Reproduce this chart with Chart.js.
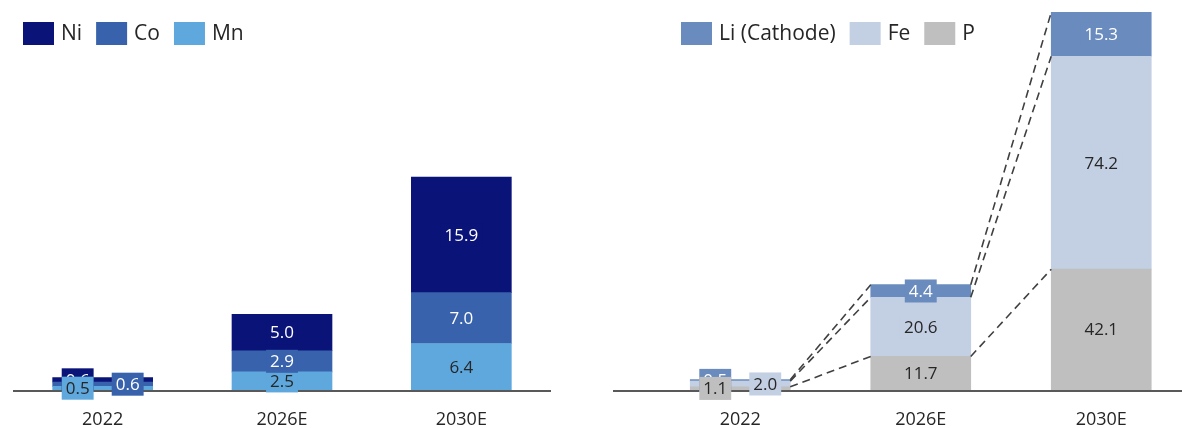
<!DOCTYPE html>
<html>
<head>
<meta charset="utf-8">
<script src="https://cdn.jsdelivr.net/npm/chart.js@4.4.1/dist/chart.umd.min.js"></script>
<style>
  html, body { margin: 0; padding: 0; background: #fff; overflow: hidden; }
  #left { position: absolute; left: 0; top: 0; }
  #rightWrap { position: absolute; left: 600px; top: 0; width: 582px; height: 428px; overflow: hidden; }
</style>
</head>
<body>
<canvas id="left" width="590" height="428"></canvas>
<div id="rightWrap"><canvas id="right" width="600" height="428"></canvas></div>
<script>
const years = ['2022', '2026E', '2030E'];

// NCM cathode metals
const ni = [0.6, 5.0, 15.9];
const co = [0.6, 2.9, 7.0];
const mn = [0.5, 2.5, 6.4];

// LFP cathode materials
const li = [0.5, 4.4, 15.3];
const fe = [2.0, 20.6, 74.2];
const p = [1.1, 11.7, 42.1];

const FONT = '"Open Sans", "Noto Sans", sans-serif';
Chart.defaults.font.family = FONT;
Chart.defaults.color = '#262626';

// one-row legend at a fixed spot, top series first
const rowLegend = {
    id: 'rowLegend',
    afterDraw(chart, args, opts) {
        const ctx = chart.ctx;
        const sets = chart.data.datasets.slice().reverse();
        let x = opts.left;
        ctx.save();
        ctx.font = '21px ' + FONT;
        ctx.textBaseline = 'middle';
        ctx.textAlign = 'left';
        sets.forEach(ds => {
            ctx.fillStyle = ds.backgroundColor;
            ctx.fillRect(x, opts.top, 31, 23);
            ctx.fillStyle = '#262626';
            ctx.fillText(ds.label, x + 38, opts.top + 12);
            x += 38 + ctx.measureText(ds.label).width + 14;
        });
        ctx.restore();
    }
};

// x axis line, optionally running further left than the plot
const baseline = {
    id: 'baseline',
    afterDatasetsDraw(chart, args, opts) {
        const { ctx, chartArea } = chart;
        ctx.save();
        ctx.strokeStyle = '#595959';
        ctx.lineWidth = 2;
        ctx.beginPath();
        ctx.moveTo(chartArea.left - (opts.extendLeft || 0), chartArea.bottom + 1);
        ctx.lineTo(chartArea.right, chartArea.bottom + 1);
        ctx.stroke();
        ctx.restore();
    }
};

// value boxes on each segment, plus dashed links between stacks
const barLabels = {
    id: 'barLabels',
    afterDatasetsDraw(chart, args, opts) {
        const ctx = chart.ctx;
        const sets = chart.data.datasets;

        if (opts.connectors) {
            ctx.save();
            ctx.strokeStyle = '#404040';
            ctx.lineWidth = 1.6;
            ctx.setLineDash([8, 5]);
            sets.forEach((ds, i) => {
                const bars = chart.getDatasetMeta(i).data;
                for (let j = 0; j < bars.length - 1; j++) {
                    const a = bars[j], b = bars[j + 1];
                    ctx.beginPath();
                    ctx.moveTo(a.x + a.width / 2, a.y);
                    ctx.lineTo(b.x - b.width / 2, b.y);
                    ctx.stroke();
                }
            });
            ctx.restore();
        }

        ctx.save();
        ctx.font = '17px ' + FONT;
        ctx.textAlign = 'center';
        ctx.textBaseline = 'middle';
        [2, 0, 1].forEach(i => {
            const ds = sets[i];
            chart.getDatasetMeta(i).data.forEach((bar, j) => {
                const text = ds.data[j].toFixed(1);
                let x = bar.x;
                const y = (bar.y + bar.base) / 2;
                // segments too thin to hold a label get it pushed to the side
                if (bar.base - bar.y < 10) x += (i === 1 ? 25 : -25);
                const w = ctx.measureText(text).width + 8, h = 23;
                ctx.fillStyle = ds.backgroundColor;
                ctx.fillRect(x - w / 2, y - h / 2, w, h);
                ctx.fillStyle = ds.labelColor;
                ctx.fillText(text, x, y + 1);
            });
        });
        ctx.restore();
    }
};

function makeOptions(yMax, pad, legendAt, extendLeft, connectors) {
    return {
        responsive: false,
        animation: false,
        layout: { padding: pad },
        scales: {
            x: {
                stacked: true,
                grid: { display: false, drawTicks: false },
                border: { display: false },
                ticks: { color: '#262626', font: { size: 18 }, padding: 19 },
                afterFit: scale => { scale.height = 38; }
            },
            y: { stacked: true, display: false, min: 0, max: yMax }
        },
        plugins: {
            legend: { display: false },
            tooltip: { enabled: false },
            rowLegend: legendAt,
            baseline: { extendLeft: extendLeft },
            barLabels: { connectors: connectors }
        }
    };
}

new Chart(document.getElementById('left'), {
    type: 'bar',
    data: {
        labels: years,
        datasets: [
            { label: 'Mn', data: mn, backgroundColor: '#5FA8DD', labelColor: '#262626', barThickness: 100, borderWidth: 0 },
            { label: 'Co', data: co, backgroundColor: '#3862AC', labelColor: '#ffffff', barThickness: 100, borderWidth: 0 },
            { label: 'Ni', data: ni, backgroundColor: '#0A1378', labelColor: '#ffffff', barThickness: 100, borderWidth: 0 }
        ]
    },
    options: makeOptions(52.3, { left: 13, right: 39, top: 10, bottom: 0 }, { left: 23, top: 22 }, 0, false),
    plugins: [baseline, barLabels, rowLegend]
});

new Chart(document.getElementById('right'), {
    type: 'bar',
    data: {
        labels: years,
        datasets: [
            { label: 'P', data: p, backgroundColor: '#BFBFBF', labelColor: '#262626', barThickness: 100, borderWidth: 0 },
            { label: 'Fe', data: fe, backgroundColor: '#C3CFE3', labelColor: '#262626', barThickness: 100, borderWidth: 0 },
            { label: 'Li (Cathode)', data: li, backgroundColor: '#6A8BBE', labelColor: '#ffffff', barThickness: 100, borderWidth: 0 }
        ]
    },
    options: makeOptions(132.4, { left: 50, right: 8.5, top: 10, bottom: 0 }, { left: 81, top: 22 }, 37, true),
    plugins: [baseline, barLabels, rowLegend]
});
</script>
</body>
</html>
